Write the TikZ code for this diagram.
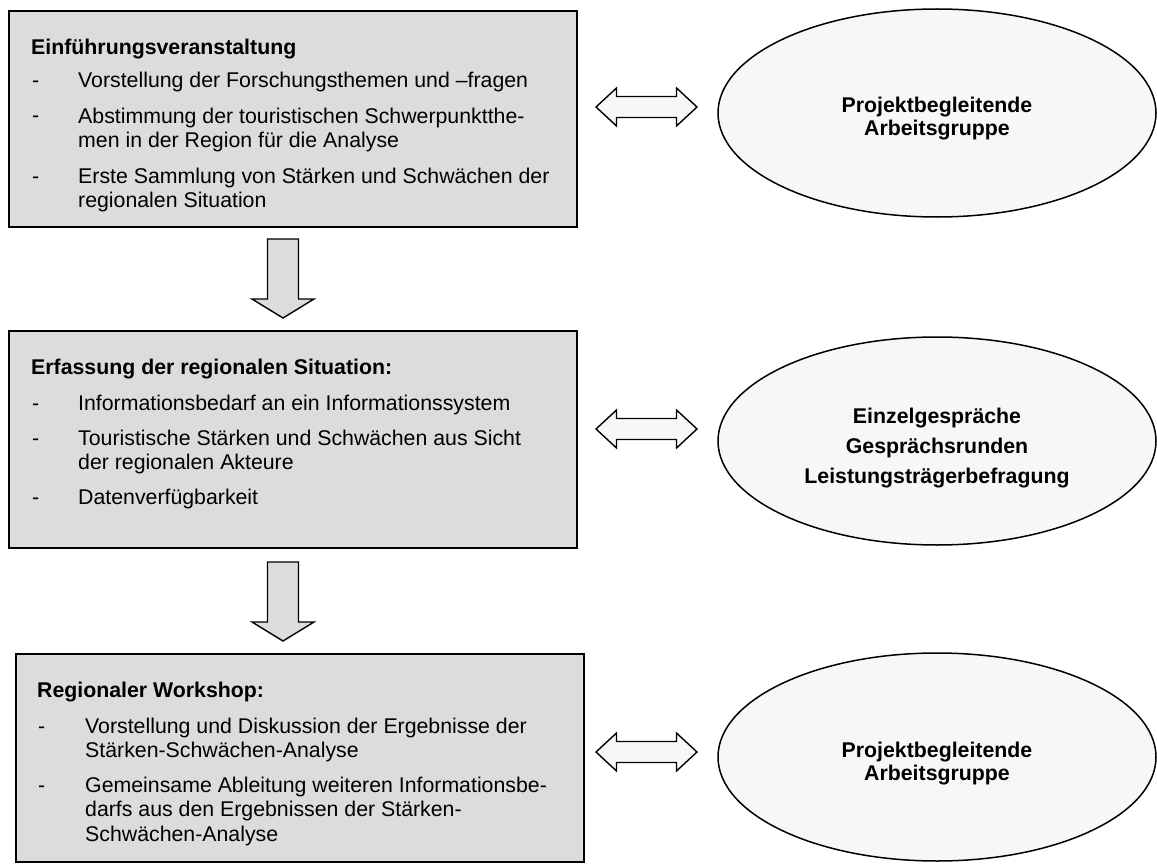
\documentclass[tikz,border=0pt]{standalone}
\usepackage{fontspec}
\setmainfont{Liberation Sans}
\usetikzlibrary{shapes.geometric, calc}

\definecolor{boxgray}{HTML}{DCDCDC}
\definecolor{ovalgray}{HTML}{F7F7F7}

\tikzset{
    stagebox/.style={draw=black, line width=2pt, fill=boxgray, anchor=north west,
        inner sep=0pt, outer sep=0pt},
    headtext/.style={anchor=base west, inner sep=0pt,
        font=\fontsize{21.3}{24.5}\selectfont\bfseries},
    itemtext/.style={anchor=base west, inner sep=0pt, align=left,
        font=\fontsize{21.3}{24.5}\selectfont},
    groupoval/.style={ellipse, draw=black, line width=1.5pt, fill=ovalgray,
        minimum width=438pt, minimum height=208pt, inner sep=0pt},
    ovaltext/.style={anchor=base, inner sep=0pt, align=center,
        font=\fontsize{21.3}{23}\selectfont\bfseries},
    blockarrow/.style={draw=black, line width=1.4pt, line join=miter},
}

\begin{document}
\begin{tikzpicture}[x=1pt, y=-1pt]

    \useasboundingbox (0,0) rectangle (1157,864);

    % ---- Parameters ----
    \def\ox{937}       % centre x of the ovals
    \def\lx{646.5}     % centre x of the double arrows
    \def\ax{283}       % centre x of the down arrows
    % (multi-line texts are placed at the baseline of their last line)

    % ---- Stage 1: Einführungsveranstaltung ----
    \node[stagebox, minimum width=568pt, minimum height=216pt] (intro) at (9,11) {};
    \node[headtext] (introTitle) at (31,55) {Einführungsveranstaltung};
    \node[itemtext] (introDa) at (32,88) {-};
    \node[itemtext] (introA) at (78,88) {Vorstellung der Forschungsthemen und –fragen};
    \node[itemtext] (introDb) at (32,123) {-};
    \node[itemtext] (introB) at (78,147.5) {Abstimmung der touristischen Schwerpunktthe-\\men in der Region für die Analyse};
    \node[itemtext] (introDc) at (32,183) {-};
    \node[itemtext] (introC) at (78,207.5) {Erste Sammlung von Stärken und Schwächen der\\regionalen Situation};

    % ---- Stage 2: Erfassung ----
    \node[stagebox, minimum width=568pt, minimum height=217pt] (survey) at (9,331) {};
    \node[headtext] (surveyTitle) at (31,374) {Erfassung der regionalen Situation:};
    \node[itemtext] (surveyDa) at (32,410) {-};
    \node[itemtext] (surveyA) at (78,410) {Informationsbedarf an ein Informationssystem};
    \node[itemtext] (surveyDb) at (32,445) {-};
    \node[itemtext] (surveyB) at (78,469.5) {Touristische Stärken und Schwächen aus Sicht\\der regionalen Akteure};
    \node[itemtext] (surveyDc) at (32,504) {-};
    \node[itemtext] (surveyC) at (78,504) {Datenverfügbarkeit};

    % ---- Stage 3: Workshop ----
    \node[stagebox, minimum width=568pt, minimum height=208pt] (workshop) at (16,654) {};
    \node[headtext] (workshopTitle) at (37,697) {Regionaler Workshop:};
    \node[itemtext] (workshopDa) at (38,733) {-};
    \node[itemtext] (workshopA) at (85,757.5) {Vorstellung und Diskussion der Ergebnisse der\\Stärken-Schwächen-Analyse};
    \node[itemtext] (workshopDb) at (38,792) {-};
    \node[itemtext] (workshopB) at (85,841) {Gemeinsame Ableitung weiteren Informationsbe-\\darfs aus den Ergebnissen der Stärken-\\Schwächen-Analyse};

    % ---- Ovals (right column) ----
    \node[groupoval] (groupA) at (\ox,113) {};
    \node[ovaltext] (groupAText) at (\ox,136) {Projektbegleitende\\Arbeitsgruppe};
    \node[groupoval] (talks) at (\ox,441) {};
    \node[ovaltext, font=\fontsize{21.3}{30}\selectfont\bfseries] (talksText) at (\ox,483)
        {Einzelgespräche\\Gesprächsrunden\\Leistungsträgerbefragung};
    \node[groupoval] (groupB) at (\ox,757) {};
    \node[ovaltext] (groupBText) at (\ox,780) {Projektbegleitende\\Arbeitsgruppe};

    % ---- Down arrows between the stages ----
    \coordinate (downA) at (\ax,239);
    \coordinate (downB) at (\ax,562);
    \foreach \c in {downA, downB} {
        \draw[blockarrow, fill=boxgray] (\c) ++(-15.5,0) -- ++(31,0) -- ++(0,60)
            -- ++(15.5,0) -- ++(-31,19) -- ++(-31,-19) -- ++(15.5,0) -- cycle;
    }

    % ---- Double arrows between stages and ovals ----
    \coordinate (linkA) at (\lx,107);
    \coordinate (linkB) at (\lx,429);
    \coordinate (linkC) at (\lx,752);
    \foreach \c in {linkA, linkB, linkC} {
        \draw[blockarrow, fill=ovalgray] (\c) ++(-50.5,0) -- ++(20.5,-19) -- ++(0,8.5)
            -- ++(60,0) -- ++(0,-8.5) -- ++(20.5,19) -- ++(-20.5,19) -- ++(0,-8.5)
            -- ++(-60,0) -- ++(0,8.5) -- cycle;
    }

\end{tikzpicture}
\end{document}
